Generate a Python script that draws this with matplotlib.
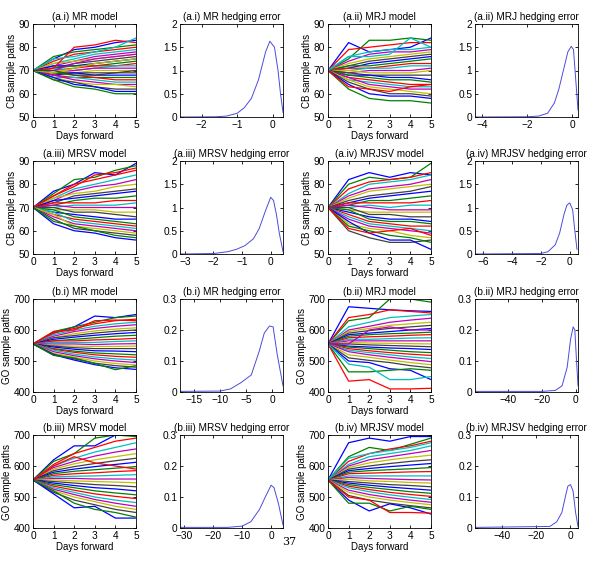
import matplotlib
matplotlib.use("Agg")
import matplotlib.pyplot as plt

plt.rcParams['font.family'] = ['Liberation Sans', 'DejaVu Sans']
plt.rcParams['font.size'] = 7.3

days = [0, 1, 2, 3, 4, 5]
cb_start = 70
go_start = 555

# simulated paths (days 1..5)
cb_mr = [
    [75, 79, 80, 82, 83], [76, 78, 79, 80, 81], [74, 77, 78, 79, 80], [73, 75, 77, 78, 79],
    [72, 74, 76, 77, 78], [73, 74, 75, 76, 77], [71, 73, 74, 75, 76], [72, 72, 73, 74, 75],
    [71, 72, 72, 73, 74], [70, 71, 72, 72, 73], [71, 70, 71, 72, 72], [69, 70, 71, 71, 71],
    [70, 69, 70, 70, 70], [69, 69, 69, 69, 69], [68, 69, 68, 68, 68], [69, 68, 67, 67, 67],
    [68, 67, 67, 66, 66], [67, 67, 66, 65, 65], [68, 66, 65, 64, 64], [67, 65, 64, 64, 63],
    [66, 65, 63, 62, 62], [67, 64, 63, 61, 61], [66, 63, 62, 60, 60], [71, 80, 81, 83, 82],
    [75, 76, 78, 80, 84], [70, 73, 75, 76, 77], [69, 71, 73, 74, 75], [70, 68, 68, 69, 70],
]
cb_mrj = [
    [82, 78, 79, 80, 84], [75, 83, 83, 84, 83], [79, 80, 81, 82, 82], [76, 78, 79, 79, 80],
    [74, 77, 78, 78, 79], [73, 75, 76, 77, 78], [72, 74, 75, 76, 77], [71, 73, 74, 75, 76],
    [72, 72, 73, 74, 75], [71, 71, 72, 73, 73], [70, 71, 71, 72, 72], [69, 70, 70, 70, 71],
    [70, 69, 69, 69, 70], [69, 68, 68, 68, 68], [68, 68, 67, 67, 66], [68, 67, 66, 66, 65],
    [67, 66, 65, 64, 64], [66, 65, 64, 63, 63], [67, 64, 63, 62, 62], [66, 63, 62, 61, 60],
    [65, 62, 60, 60, 59], [64, 60, 59, 59, 58], [62, 58, 57, 57, 56], [63, 62, 61, 63, 64],
    [76, 76, 77, 84, 80],
]
cb_mrsv = [
    [77, 80, 85, 84, 89], [76, 82, 83, 86, 88], [75, 80, 82, 84, 86], [74, 78, 80, 82, 84],
    [73, 77, 79, 80, 82], [74, 76, 77, 79, 80], [72, 75, 76, 77, 78], [73, 74, 75, 76, 77],
    [71, 73, 74, 74, 75], [72, 72, 72, 73, 73], [70, 71, 71, 71, 72], [71, 70, 70, 70, 70],
    [69, 69, 69, 68, 68], [70, 68, 68, 67, 66], [68, 67, 66, 65, 65], [69, 66, 65, 64, 63],
    [67, 65, 64, 63, 62], [68, 64, 63, 62, 61], [66, 63, 62, 61, 60], [67, 62, 61, 60, 59],
    [65, 61, 60, 59, 58], [63, 60, 59, 57, 56], [64, 62, 60, 58, 57], [75, 79, 84, 85, 87],
]
cb_mrjsv = [
    [82, 85, 83, 85, 84], [80, 83, 82, 83, 89], [78, 81, 82, 83, 85], [76, 80, 81, 82, 84],
    [75, 78, 79, 80, 82], [74, 77, 78, 79, 80], [73, 75, 76, 77, 79], [72, 74, 75, 76, 77],
    [71, 73, 73, 74, 75], [72, 72, 72, 72, 73], [70, 71, 70, 71, 71], [71, 70, 69, 69, 69],
    [69, 68, 68, 68, 68], [70, 67, 67, 66, 66], [68, 66, 65, 65, 64], [69, 65, 64, 64, 63],
    [67, 64, 63, 62, 62], [66, 63, 62, 61, 60], [65, 62, 61, 60, 59], [63, 61, 60, 58, 57],
    [60, 57, 55, 55, 56], [64, 59, 56, 56, 52], [62, 60, 58, 57, 55], [61, 59, 60, 61, 58],
]
go_mr = [
    [590, 610, 645, 640, 650], [595, 610, 625, 640, 645], [590, 605, 620, 630, 635],
    [585, 600, 612, 620, 625], [580, 595, 605, 612, 617], [575, 588, 597, 603, 607],
    [575, 582, 590, 596, 600], [570, 577, 583, 588, 592], [565, 570, 575, 580, 583],
    [565, 565, 568, 570, 573], [560, 560, 560, 563, 565], [555, 555, 553, 555, 556],
    [550, 548, 547, 547, 548], [548, 543, 540, 540, 540], [545, 538, 533, 532, 530],
    [540, 532, 526, 523, 520], [538, 528, 520, 515, 512], [535, 522, 513, 507, 503],
    [530, 517, 507, 500, 495], [525, 512, 500, 492, 487], [522, 507, 493, 485, 480],
    [520, 503, 488, 478, 473], [518, 510, 492, 472, 485], [595, 600, 630, 632, 630],
]
go_mrj = [
    [675, 670, 665, 662, 660], [630, 640, 700, 700, 690], [640, 650, 665, 660, 655],
    [610, 625, 640, 645, 650], [600, 612, 625, 632, 638], [595, 605, 615, 620, 625],
    [590, 598, 605, 610, 615], [585, 590, 595, 600, 605], [580, 585, 588, 590, 593],
    [575, 578, 580, 583, 585], [570, 570, 572, 574, 575], [565, 565, 565, 565, 565],
    [560, 558, 557, 556, 555], [555, 552, 550, 548, 546], [548, 545, 542, 540, 537],
    [545, 540, 535, 530, 527], [540, 533, 527, 522, 518], [535, 527, 520, 513, 508],
    [530, 520, 512, 505, 498], [520, 512, 503, 495, 488], [510, 502, 495, 485, 478],
    [500, 495, 475, 470, 440], [465, 465, 470, 475, 470], [435, 440, 410, 410, 412],
    [490, 480, 440, 440, 450], [555, 600, 610, 600, 600],
]
go_mrsv = [
    [620, 665, 665, 700, 700], [615, 640, 690, 700, 695], [605, 640, 660, 680, 690],
    [600, 625, 645, 660, 675], [595, 615, 632, 645, 655], [590, 607, 620, 630, 640],
    [585, 598, 608, 617, 625], [580, 590, 598, 605, 612], [575, 583, 588, 593, 598],
    [570, 575, 578, 582, 585], [565, 567, 568, 570, 572], [560, 560, 558, 558, 558],
    [555, 552, 550, 548, 546], [550, 545, 540, 537, 533], [545, 537, 530, 526, 520],
    [540, 530, 520, 513, 507], [535, 522, 510, 502, 495], [530, 515, 500, 490, 482],
    [525, 508, 492, 480, 470], [520, 500, 485, 470, 460], [515, 490, 475, 460, 450],
    [510, 465, 470, 432, 432], [520, 480, 460, 450, 435], [600, 630, 610, 600, 590],
]
go_mrjsv = [
    [675, 690, 680, 695, 695], [630, 660, 650, 670, 690], [615, 640, 655, 665, 680],
    [605, 630, 640, 650, 665], [600, 620, 630, 640, 650], [595, 610, 620, 628, 635],
    [590, 600, 608, 615, 620], [585, 592, 598, 603, 608], [580, 585, 588, 591, 595],
    [575, 577, 579, 581, 582], [568, 568, 568, 568, 568], [563, 560, 558, 556, 555],
    [557, 552, 550, 547, 545], [550, 545, 540, 537, 533], [545, 538, 532, 527, 522],
    [540, 531, 524, 517, 512], [535, 524, 515, 508, 502], [530, 517, 507, 499, 492],
    [522, 508, 498, 490, 483], [515, 500, 490, 482, 475], [505, 490, 480, 472, 465],
    [490, 455, 478, 465, 445], [480, 480, 455, 470, 460], [500, 490, 450, 450, 448],
    [625, 640, 650, 660, 675],
]

# hedging error densities (x, density)
he_a1_x = [-2.61, -1.6, -1.3, -1.0, -0.8, -0.6, -0.4, -0.2, -0.08, 0.05, 0.15, 0.22, 0.29]
he_a1_y = [0.0, 0.005, 0.02, 0.08, 0.2, 0.4, 0.8, 1.4, 1.63, 1.5, 1.0, 0.5, 0.1]
he_a2_x = [-4.32, -2.0, -1.5, -1.1, -0.8, -0.6, -0.4, -0.2, -0.05, 0.05, 0.15, 0.25]
he_a2_y = [0.0, 0.005, 0.02, 0.08, 0.3, 0.6, 1.0, 1.4, 1.52, 1.45, 0.8, 0.15]
he_a3_x = [-3.17, -2.0, -1.5, -1.2, -0.9, -0.6, -0.4, -0.2, 0.0, 0.1, 0.2, 0.3, 0.43]
he_a3_y = [0.0, 0.01, 0.05, 0.1, 0.18, 0.33, 0.55, 0.9, 1.22, 1.15, 0.85, 0.45, 0.05]
he_a4_x = [-6.55, -2.0, -1.5, -1.0, -0.7, -0.4, -0.2, 0.0, 0.2, 0.35, 0.5]
he_a4_y = [0.0, 0.01, 0.05, 0.2, 0.45, 0.85, 1.05, 1.1, 0.95, 0.5, 0.1]
he_b1_x = [-17.7, -10.0, -8.0, -6.0, -4.0, -2.5, -1.5, -0.5, 0.2, 1.0, 2.1]
he_b1_y = [0.002, 0.003, 0.01, 0.03, 0.055, 0.13, 0.19, 0.213, 0.21, 0.12, 0.02]
he_b2_x = [-59.2, -20.0, -12.0, -8.0, -5.0, -3.0, -1.5, -0.5, 0.3, 1.36]
he_b2_y = [0.002, 0.002, 0.005, 0.02, 0.08, 0.17, 0.21, 0.2, 0.12, 0.02]
he_b3_x = [-31.4, -15.0, -10.0, -7.0, -4.0, -2.0, 0.0, 1.0, 2.5, 4.1]
he_b3_y = [0.002, 0.002, 0.006, 0.02, 0.06, 0.1, 0.138, 0.13, 0.08, 0.01]
he_b4_x = [-55.6, -12.0, -8.0, -5.0, -3.0, -1.5, 0.0, 1.5, 3.0, 4.4]
he_b4_y = [0.002, 0.005, 0.02, 0.05, 0.1, 0.135, 0.14, 0.12, 0.05, 0.005]

# MATLAB default colour order
colors = [(0, 0, 1), (0, 0.5, 0), (1, 0, 0), (0, 0.75, 0.75),
          (0.75, 0, 0.75), (0.75, 0.75, 0), (0.25, 0.25, 0.25)]

W, H = 594, 566
fig = plt.figure(figsize=(W / 100, H / 100), dpi=100)

col_left = [33, 180, 328, 475]
row_top = [24, 161, 299, 435]
aw, ah = 103, 93
title_size = 7.2


def make_ax(r, c):
    ax = fig.add_axes([col_left[c] / W, 1 - (row_top[r] + ah) / H, aw / W, ah / H])
    ax.tick_params(direction='in', top=True, right=True, length=2.5, width=0.6, pad=2)
    for s in ax.spines.values():
        s.set_linewidth(0.6)
    return ax


panels = [
    (0, 0, cb_mr, cb_start, "CB", "(a.i) MR model"),
    (0, 2, cb_mrj, cb_start, "CB", "(a.ii) MRJ model"),
    (1, 0, cb_mrsv, cb_start, "CB", "(a.iii) MRSV model"),
    (1, 2, cb_mrjsv, cb_start, "CB", "(a.iv) MRJSV model"),
    (2, 0, go_mr, go_start, "GO", "(b.i) MR model"),
    (2, 2, go_mrj, go_start, "GO", "(b.ii) MRJ model"),
    (3, 0, go_mrsv, go_start, "GO", "(b.iii) MRSV model"),
    (3, 2, go_mrjsv, go_start, "GO", "(b.iv) MRJSV model"),
]
for r, c, paths, start, name, title in panels:
    ax = make_ax(r, c)
    for i, p in enumerate(paths):
        ax.plot(days, [start] + p, color=colors[i % len(colors)], lw=0.9)
    ax.set_xlim(0, 5)
    if name == "CB":
        ax.set_ylim(50, 90)
        ax.set_yticks([50, 60, 70, 80, 90])
    else:
        ax.set_ylim(400, 700)
        ax.set_yticks([400, 500, 600, 700])
    ax.set_xticks(days)
    ax.set_title(title, pad=3, fontsize=title_size)
    ax.set_xlabel("Days forward", labelpad=1, fontsize=7)
    ax.set_ylabel(name + " sample paths", labelpad=1, fontsize=7)

hedges = [
    (0, 1, he_a1_x, he_a1_y, (-2.61, 0.29), [-2, -1, 0], 2, "(a.i) MR hedging error"),
    (0, 3, he_a2_x, he_a2_y, (-4.32, 0.25), [-4, -2, 0], 2, "(a.ii) MRJ hedging error"),
    (1, 1, he_a3_x, he_a3_y, (-3.17, 0.43), [-3, -2, -1, 0], 2, "(a.iii) MRSV hedging error"),
    (1, 3, he_a4_x, he_a4_y, (-6.55, 0.57), [-6, -4, -2, 0], 2, "(a.iv) MRJSV hedging error"),
    (2, 1, he_b1_x, he_b1_y, (-17.7, 2.1), [-15, -10, -5, 0], 0.3, "(b.i) MR hedging error"),
    (2, 3, he_b2_x, he_b2_y, (-59.2, 1.36), [-40, -20, 0], 0.3, "(b.ii) MRJ hedging error"),
    (3, 1, he_b3_x, he_b3_y, (-31.4, 4.1), [-30, -20, -10, 0], 0.3, "(b.iii) MRSV hedging error"),
    (3, 3, he_b4_x, he_b4_y, (-55.6, 4.4), [-40, -20, 0], 0.3, "(b.iv) MRJSV hedging error"),
]
for r, c, x, y, xl, xt, ymax, title in hedges:
    ax = make_ax(r, c)
    ax.plot(x, y, color='#4b4bdc', lw=0.7)
    ax.set_xlim(*xl)
    ax.set_xticks(xt)
    ax.set_xticklabels([str(t).replace('-', '\u2212') for t in xt])
    ax.set_ylim(0, ymax)
    if ymax == 2:
        ax.set_yticks([0, 0.5, 1, 1.5, 2])
        ax.set_yticklabels(["0", "0.5", "1", "1.5", "2"])
    else:
        ax.set_yticks([0, 0.1, 0.2, 0.3])
        ax.set_yticklabels(["0", "0.1", "0.2", "0.3"])
    ax.set_title(title, pad=3, fontsize=title_size)

fig.text(289 / W, 1 - 542 / H, "37", family='DejaVu Serif', fontsize=8,
         ha='center', va='center')

fig.savefig("out.png", dpi=100)
